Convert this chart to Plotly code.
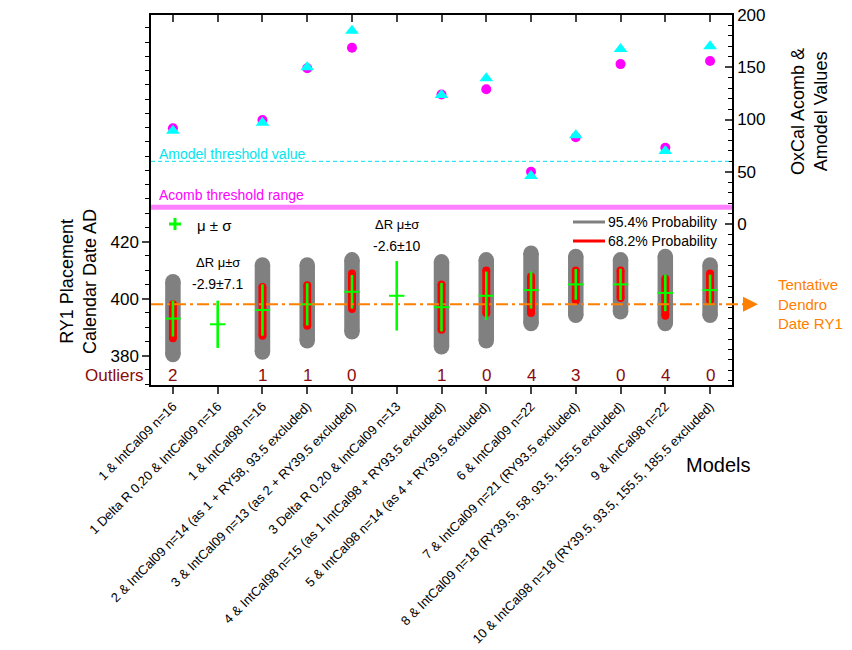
import plotly.graph_objects as go

# ---------------- data ----------------
models = [
    "1 & IntCal09 n=16",
    "1 Delta R 0,20 & IntCal09 n=16",
    "1 & IntCal98 n=16",
    "2 & IntCal09 n=14 (as 1 + RY58, 93.5 excluded)",
    "3 & IntCal09 n=13 (as 2 + RY39.5 excluded)",
    "3 Delta R 0.20 & IntCal09 n=13",
    "4 & IntCal98 n=15 (as 1 IntCal98 + RY93.5 excluded)",
    "5 & IntCal98 n=14 (as 4 + RY39.5 excluded)",
    "6 & IntCal09 n=22",
    "7 & IntCal09 n=21 (RY93.5 excluded)",
    "8 & IntCal09 n=18 (RY39.5, 58, 93.5, 155.5 excluded)",
    "9 & IntCal98 n=22",
    "10 & IntCal98 n=18 (RY39.5, 93.5, 155.5, 185.5 excluded)",
]
acomb = [91.6, None, 99.5, 149, 168.7, None, 124, 129, 50, 83, 153, 73, 156]
amodel = [89.3, None, 97, 150, 185, None, 123.5, 139.4, 46, 85, 167.5, 70, 170]
amodel_threshold = 60
acomb_threshold = 16

# 95.4 % range (rounded-bar ends)
p95_lo = [380.4, None, 381.3, 385.2, 388.4, None, 383.1, 385.2, 391.3, 394.2, 395.4, 391.3, 394.2]
p95_hi = [405.9, None, 411.8, 411.8, 413.6, None, 412.9, 413.6, 415.9, 414.8, 413.6, 414.8, 411.8]
# 68.2 % range
p68_lo = [386.1, None, 387.0, 390.5, 396.4, None, 389.1, 395.0, 395.0, 399.3, 400.2, 394.0, 399.3]
p68_hi = [398.0, None, 404.1, 404.7, 408.8, None, 405.0, 409.9, 407.8, 409.9, 409.9, 407.0, 408.8]
# mu +- sigma
mu = [393, 391, 396, 398, 402.4, 401, 397, 401, 403, 405, 405, 402, 403]
sigma = [6.3, 8.3, 9, 7.4, 5.9, 12.2, 8.5, 8.5, 6.5, 5.4, 5.5, 6.4, 5.4]
outliers = [2, None, 1, 1, 0, None, 1, 0, 4, 3, 0, 4, 0]
dendro_date = 398
deltaR_labels = {1: "-2.9±7.1", 5: "-2.6±10"}

# ---------------- geometry helpers ----------------
L, R, T, B = 151, 732, 15, 385
W, H = 852, 650


def px(x):
    return (x - L) / (R - L)


def py(y):
    return (B - y) / (B - T)


xs = list(range(len(models)))


def seg(lo, hi):
    X, Y = [], []
    for i, (a, b) in enumerate(zip(lo, hi)):
        if a is None:
            continue
        X += [i, i, None]
        Y += [a, b, None]
    return X, Y


fig = go.Figure()

gx, gy = seg(p95_lo, p95_hi)
fig.add_trace(go.Scatter(x=gx, y=gy, mode="lines+markers",
                         line=dict(color="#808080", width=15.5),
                         marker=dict(color="#808080", size=15.5),
                         hoverinfo="skip", showlegend=False))
rx, ry = seg(p68_lo, p68_hi)
fig.add_trace(go.Scatter(x=rx, y=ry, mode="lines+markers",
                         line=dict(color="#FF0000", width=8),
                         marker=dict(color="#FF0000", size=8),
                         hoverinfo="skip", showlegend=False))
fig.add_trace(go.Scatter(x=xs, y=mu, mode="markers",
                         marker=dict(symbol="line-ew", size=11,
                                     line=dict(color="#00FF00", width=2)),
                         error_y=dict(type="data", array=sigma, color="#00FF00",
                                      thickness=2.6, width=0),
                         showlegend=False))

# top panel markers
fig.add_trace(go.Scatter(x=xs, y=acomb, mode="markers", yaxis="y2",
                         marker=dict(symbol="circle", size=10, color="#FF00FF"),
                         showlegend=False))
fig.add_trace(go.Scatter(x=xs, y=amodel, mode="markers", yaxis="y2",
                         marker=dict(symbol="triangle-up", size=12, color="#00FFFF"),
                         showlegend=False))
# dummy for top tick axis
fig.add_trace(go.Scatter(x=[0], y=[400], xaxis="x2", mode="markers",
                         marker=dict(opacity=0), hoverinfo="skip", showlegend=False))

font = "Liberation Sans"
shapes = []
ann = []


def text(x, y, s, size, color="black", xa="center", ya="middle", **kw):
    d = dict(xref="paper", yref="paper", x=px(x), y=py(y), text=s, showarrow=False,
             xanchor=xa, yanchor=ya, font=dict(family=font, size=size, color=color))
    d.update(kw)
    ann.append(d)


# thresholds
shapes.append(dict(type="line", xref="paper", yref="y2", x0=0, x1=1,
                   y0=amodel_threshold, y1=amodel_threshold,
                   line=dict(color="#00E5EE", width=1, dash="4px,3px")))
shapes.append(dict(type="line", xref="paper", yref="y2", x0=0, x1=1,
                   y0=acomb_threshold, y1=acomb_threshold,
                   line=dict(color="#FF80FF", width=5)))
text(157, 154, "Amodel threshold value", 14, "#00E5EE", xa="left")
text(157, 195, "Acomb threshold range", 14, "#FF00FF", xa="left")

# dendro line + arrow
shapes.append(dict(type="line", xref="paper", yref="y", x0=0, x1=px(746),
                   y0=dendro_date, y1=dendro_date,
                   line=dict(color="#FF8000", width=2, dash="12px,4px,3px,4px")))
ann.append(dict(xref="paper", yref="y", x=px(758), y=dendro_date, ax=-14, ay=0,
                text="", showarrow=True, arrowhead=2, arrowsize=1.5, arrowwidth=2,
                arrowcolor="#FF8000"))
text(776, 304, "Tentative<br>Dendro<br>Date RY1", 15, "#FF8000", xa="left", align="left")

# legends
shapes.append(dict(type="line", xref="paper", yref="paper", x0=px(573), x1=px(605),
                   y0=py(222), y1=py(222), line=dict(color="#808080", width=3)))
shapes.append(dict(type="line", xref="paper", yref="paper", x0=px(573), x1=px(605),
                   y0=py(241), y1=py(241), line=dict(color="#FF0000", width=3)))
text(606, 222, "95.4% Probability", 14, xa="left")
text(606, 241, "68.2% Probability", 14, xa="left")
shapes.append(dict(type="line", xref="paper", yref="paper", x0=px(169), x1=px(181),
                   y0=py(224), y1=py(224), line=dict(color="#00FF00", width=3)))
shapes.append(dict(type="line", xref="paper", yref="paper", x0=px(175), x1=px(175),
                   y0=py(218), y1=py(230), line=dict(color="#00FF00", width=3)))
text(195, 225, "μ ± σ", 15, xa="left")

# delta R labels
dr_pos = {1: (262, 284), 5: (224, 246)}
for i, lab in deltaR_labels.items():
    y1, y2 = dr_pos[i]
    ann.append(dict(xref="x", yref="paper", x=i, y=py(y1), text="ΔR μ±σ", showarrow=False,
                    xanchor="center", yanchor="middle",
                    font=dict(family=font, size=13, color="black")))
    ann.append(dict(xref="x", yref="paper", x=i, y=py(y2), text=lab, showarrow=False,
                    xanchor="center", yanchor="middle",
                    font=dict(family=font, size=14, color="black")))

# outliers
for i, o in enumerate(outliers):
    if o is None:
        continue
    ann.append(dict(xref="x", yref="paper", x=i, y=py(375), text=str(o), showarrow=False,
                    xanchor="center", yanchor="middle",
                    font=dict(family=font, size=17, color="#8B0A0A")))
text(146, 375, "Outliers", 17, "#8B0A0A", xa="right")

# axis titles
text(78, 282, "RY1 Placement<br>Calendar Date AD", 18, textangle=-90)
text(809, 112, "OxCal Acomb &<br>Amodel Values", 18, textangle=-90)
text(718, 465, "Models", 20)

left_ticks = list(range(380, 501, 20))
left_text = [str(v) if v <= 420 else "" for v in left_ticks]
right_ticks = list(range(-150, 201, 50))
right_text = [str(v) if v >= 0 else "" for v in right_ticks]

fig.update_layout(
    width=W, height=H,
    margin=dict(l=L, r=W - R, t=T, b=H - B, autoexpand=False),
    paper_bgcolor="white", plot_bgcolor="white",
    font=dict(family=font, color="black"),
    showlegend=False,
    shapes=shapes, annotations=ann,
    xaxis=dict(range=[-0.49, 12.49], tickmode="array", tickvals=xs, ticktext=models,
               tickangle=-45, tickfont=dict(size=13), ticks="outside", ticklen=7,
               tickwidth=1.5, showline=True, linewidth=1.5, linecolor="black",
               mirror=True, showgrid=False, zeroline=False, automargin=False),
    xaxis2=dict(range=[-0.49, 12.49], overlaying="x", side="top", anchor="y",
                tickmode="array", tickvals=xs, showticklabels=False, ticks="inside",
                ticklen=7, tickwidth=1.5, showline=False, showgrid=False, zeroline=False,
                automargin=False),
    yaxis=dict(range=[369.7, 499.5], tickmode="array", tickvals=left_ticks,
               ticktext=left_text, tickfont=dict(size=17), ticks="outside", ticklen=7,
               tickwidth=1.5, showline=True, linewidth=1.5, linecolor="black",
               showgrid=False, zeroline=False, automargin=False,
               minor=dict(tickvals=list(range(370, 500, 5)), ticks="outside", ticklen=4,
                          tickwidth=1, tickcolor="black", showgrid=False)),
    yaxis2=dict(range=[-154, 200], overlaying="y", side="right", anchor="x",
                tickmode="array", tickvals=right_ticks, ticktext=right_text,
                tickfont=dict(size=17), ticks="inside", ticklen=7, tickwidth=1.5,
                showline=True, linewidth=1.5, linecolor="black",
                showgrid=False, zeroline=False, automargin=False,
                minor=dict(tickvals=list(range(-150, 201, 10)), ticks="inside", ticklen=4,
                           tickwidth=1, tickcolor="black", showgrid=False)),
)

fig.write_html("out.html")
